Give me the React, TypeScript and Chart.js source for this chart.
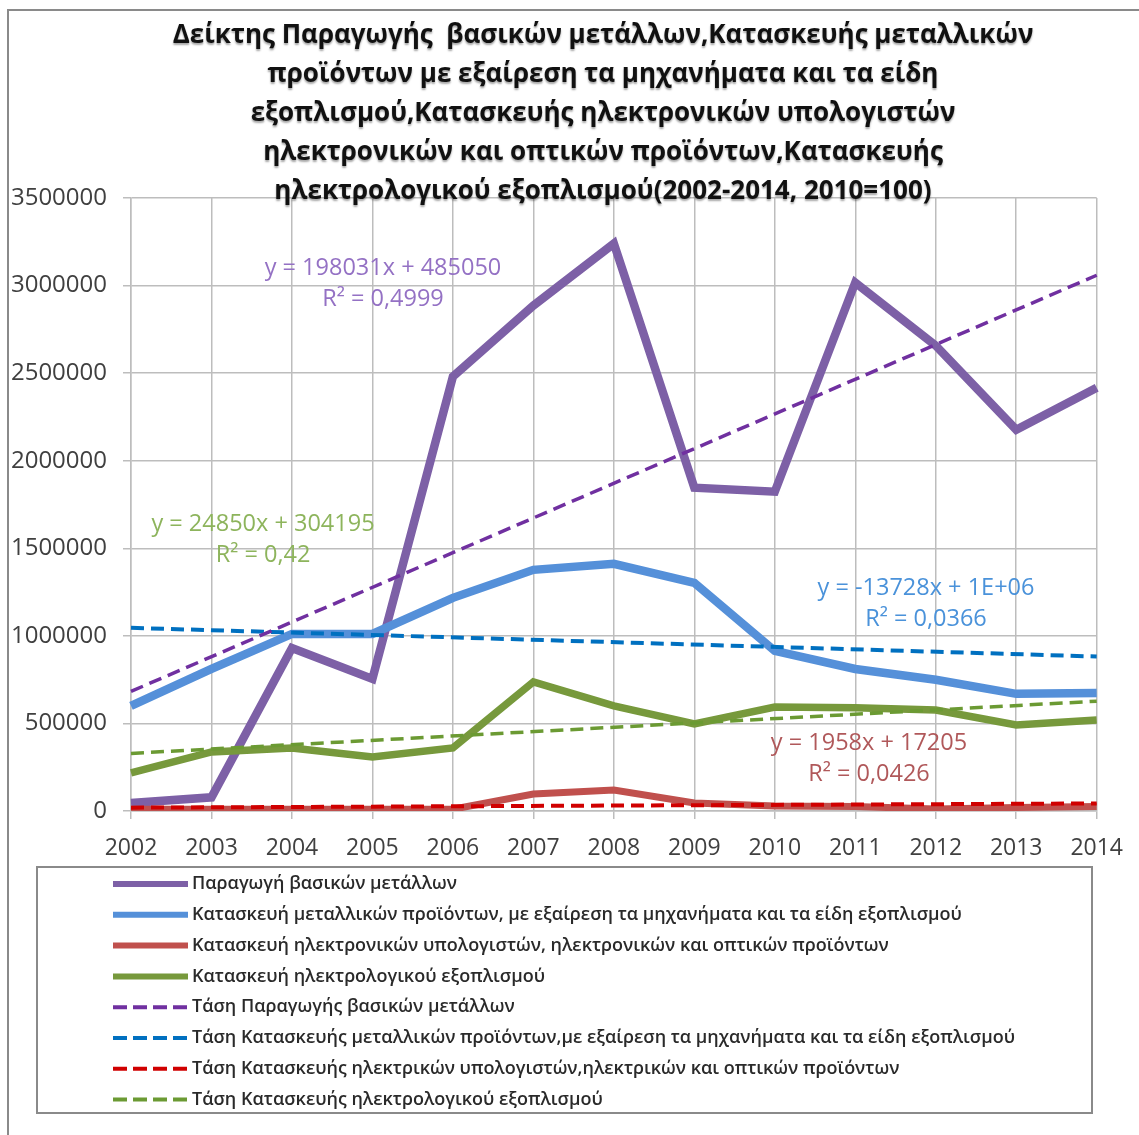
import React, { useEffect, useRef } from 'react';
import { Chart, registerables } from 'chart.js';

Chart.register(...registerables);

const years = ['2002', '2003', '2004', '2005', '2006', '2007', '2008', '2009', '2010', '2011', '2012', '2013', '2014'];

const basicMetals = [46000, 78000, 931000, 754000, 2480000, 2886000, 3240000, 1846000, 1823000, 3017000, 2657000, 2177000, 2417000];
const metalProducts = [600000, 811000, 1011000, 1011000, 1217000, 1377000, 1411000, 1303000, 914000, 811000, 749000, 669000, 674000];
const computers = [10000, 10000, 10000, 10000, 10000, 97000, 120000, 46000, 29000, 25000, 12000, 20000, 25000];
const electrical = [217000, 337000, 360000, 309000, 360000, 737000, 600000, 497000, 594000, 589000, 577000, 491000, 520000];

// Trend lines: values at 2002 and 2014 (straight lines between)
const trendBasicMetals = [683000, null, null, null, null, null, null, null, null, null, null, null, 3059000];
const trendMetalProducts = [1046000, null, null, null, null, null, null, null, null, null, null, null, 882000];
const trendComputers = [19000, null, null, null, null, null, null, null, null, null, null, null, 43000];
const trendElectrical = [329000, null, null, null, null, null, null, null, null, null, null, null, 627000];

const titleLines = [
  'Δείκτης Παραγωγής  βασικών μετάλλων,Κατασκευής μεταλλικών',
  'προϊόντων με εξαίρεση τα μηχανήματα και τα είδη',
  'εξοπλισμού,Κατασκευής ηλεκτρονικών υπολογιστών',
  'ηλεκτρονικών και οπτικών προϊόντων,Κατασκευής',
  'ηλεκτρολογικού εξοπλισμού(2002-2014, 2010=100)',
];

const seriesLabels = [
  'Παραγωγή βασικών μετάλλων',
  'Κατασκευή μεταλλικών προϊόντων, με εξαίρεση τα μηχανήματα και τα είδη εξοπλισμού',
  'Κατασκευή ηλεκτρονικών υπολογιστών, ηλεκτρονικών και οπτικών προϊόντων',
  'Κατασκευή ηλεκτρολογικού εξοπλισμού',
  'Τάση Παραγωγής βασικών μετάλλων',
  'Τάση Κατασκευής μεταλλικών προϊόντων,με εξαίρεση τα μηχανήματα και τα είδη εξοπλισμού',
  'Τάση Κατασκευής ηλεκτρικών υπολογιστών,ηλεκτρικών και οπτικών προϊόντων',
  'Τάση Κατασκευής ηλεκτρολογικού εξοπλισμού',
];

const trendEquations = ['y = 198031x + 485050', 'y = -13728x + 1E+06', 'y = 1958x + 17205', 'y = 24850x + 304195'];
const trendR2 = ['R² = 0,4999', 'R² = 0,0366', 'R² = 0,0426', 'R² = 0,42'];

const solidColors = ['#7D60A6', '#5590D9', '#C0504D', '#77993C'];
const dashColors = ['#7030A0', '#0070C0', '#D00000', '#6B9A33'];
const labelColors = ['#9471C4', '#4A92DA', '#B0585A', '#8DB45C'];
// annotation placement [x center, y of first line]
const annotationPos = [
  [383, 268],
  [926, 588],
  [869, 743],
  [263, 524],
];

const FONT = '"Open Sans", "Noto Sans", sans-serif';

const decorPlugin = {
  id: 'decor',
  beforeDraw(chart: any) {
    const ctx = chart.ctx;
    ctx.save();
    ctx.fillStyle = '#ffffff';
    ctx.fillRect(0, 0, chart.width, chart.height);
    ctx.strokeStyle = '#8a8a8a';
    ctx.lineWidth = 2;
    ctx.beginPath();
    ctx.moveTo(8, chart.height);
    ctx.lineTo(8, 10);
    ctx.lineTo(chart.width, 10);
    ctx.stroke();
    ctx.restore();
  },
  afterDraw(chart: any) {
    const ctx = chart.ctx;
    ctx.save();
    // Title
    ctx.font = `bold 26px ${FONT}`;
    ctx.fillStyle = '#111111';
    ctx.textAlign = 'center';
    ctx.textBaseline = 'middle';
    ctx.shadowColor = 'rgba(0,0,0,0.35)';
    ctx.shadowBlur = 2;
    ctx.shadowOffsetY = 1.5;
    titleLines.forEach((t, i) => ctx.fillText(t, 603, 36 + i * 39));
    ctx.shadowColor = 'transparent';
    ctx.shadowBlur = 0;
    ctx.shadowOffsetY = 0;

    // Trend annotations
    ctx.font = `23.5px ${FONT}`;
    trendEquations.forEach((t, i) => {
      ctx.fillStyle = labelColors[i];
      const [x, y] = annotationPos[i];
      ctx.fillText(t, x, y);
      ctx.fillText(trendR2[i], x, y + 31);
    });

    // Legend
    ctx.strokeStyle = '#8a8a8a';
    ctx.lineWidth = 2;
    ctx.strokeRect(37, 867, 1055, 246);
    ctx.font = `600 18px ${FONT}`;
    ctx.textAlign = 'left';
    seriesLabels.forEach((t, i) => {
      const y = 884 + i * 30.8;
      const isTrend = i >= 4;
      ctx.strokeStyle = isTrend ? dashColors[i - 4] : solidColors[i];
      ctx.lineWidth = isTrend ? 4 : 6;
      ctx.setLineDash(isTrend ? [14, 6] : []);
      ctx.beginPath();
      ctx.moveTo(113, y);
      ctx.lineTo(188, y);
      ctx.stroke();
      ctx.setLineDash([]);
      ctx.fillStyle = '#2a2a2a';
      ctx.fillText(t, 192, y);
    });
    ctx.restore();
  },
};

export default function App() {
  const ref = useRef<HTMLCanvasElement>(null);
  useEffect(() => {
    if (!ref.current) return;
    const solid = (label: string, data: number[], color: string, width: number, order: number) => ({
      label, data, borderColor: color, backgroundColor: color, borderWidth: width,
      pointRadius: 0, tension: 0, fill: false, order, borderJoinStyle: 'miter' as const,
    });
    const trend = (label: string, data: (number | null)[], color: string, width: number) => ({
      label, data, borderColor: color, backgroundColor: color, borderWidth: width,
      borderDash: [13, 7], pointRadius: 0, spanGaps: true, fill: false, order: 0,
    });
    const chart = new Chart(ref.current, {
      type: 'line',
      data: {
        labels: years,
        datasets: [
          solid(seriesLabels[0], basicMetals, solidColors[0], 8.5, 5),
          solid(seriesLabels[1], metalProducts, solidColors[1], 8.5, 4),
          solid(seriesLabels[2], computers, solidColors[2], 7, 3),
          solid(seriesLabels[3], electrical, solidColors[3], 7.5, 2),
          trend(seriesLabels[4], trendBasicMetals, dashColors[0], 3.5),
          trend(seriesLabels[5], trendMetalProducts, dashColors[1], 4),
          trend(seriesLabels[6], trendComputers, dashColors[2], 4),
          trend(seriesLabels[7], trendElectrical, dashColors[3], 3.5),
        ] as any,
      },
      options: {
        responsive: false,
        animation: false,
        devicePixelRatio: 1,
        layout: { padding: { left: 0, right: 38, top: 198, bottom: 264 } },
        plugins: { legend: { display: false }, title: { display: false }, tooltip: { enabled: false } },
        scales: {
          x: {
            type: 'category',
            offset: false,
            grid: { color: '#bdbdbd', lineWidth: 1.5, tickLength: 8, drawTicks: true },
            border: { color: '#bdbdbd', width: 1.5 },
            ticks: { color: '#404040', font: { family: FONT, size: 23 }, padding: 16, maxRotation: 0, autoSkip: false },
            afterFit: (s: any) => { s.height = 60; },
          },
          y: {
            min: 0,
            max: 3500000,
            grid: { color: '#bdbdbd', lineWidth: 1.5, tickLength: 8, drawTicks: true },
            border: { color: '#bdbdbd', width: 1.5 },
            ticks: { stepSize: 500000, color: '#404040', font: { family: FONT, size: 24 }, padding: 16, callback: (v: any) => String(v) },
            afterFit: (s: any) => { s.width = 131; },
          },
        },
      },
      plugins: [decorPlugin],
    });
    return () => chart.destroy();
  }, []);
  return (
    <div style={{ position: 'fixed', left: 0, top: 0, width: 1139, height: 1135 }}>
      <canvas ref={ref} width={1139} height={1135} style={{ display: 'block' }} />
    </div>
  );
}
